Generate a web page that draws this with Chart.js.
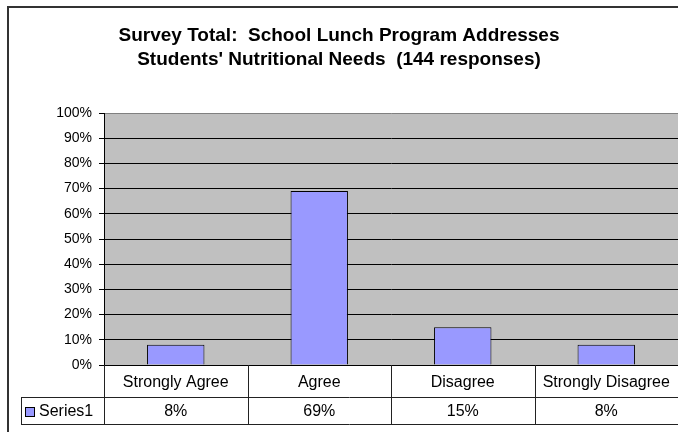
<!DOCTYPE html>
<html>
<head>
<meta charset="utf-8">
<script src="https://cdn.jsdelivr.net/npm/chart.js@4"></script>
<style>
  html, body { margin: 0; padding: 0; background: #fff; }
  #wrap { width: 678px; height: 432px; }
</style>
</head>
<body>
<div id="wrap"><canvas id="chart" width="678" height="432"></canvas></div>
<script>
const categories = ['Strongly Agree', 'Agree', 'Disagree', 'Strongly Disagree'];
const seriesName = 'Series1';
const seriesValues = [8, 69, 15, 8];
const tableLabels = ['8%', '69%', '15%', '8%'];
const titleLines = ['Survey Total:  School Lunch Program Addresses', "Students' Nutritional Needs  (144 responses)"];

const FONT = "'Liberation Sans', Arial, sans-serif";
const BAR_FILL = '#9999FF';

// grey plot background + outer frame
const backdrop = {
  id: 'backdrop',
  beforeDraw(chart) {
    const { ctx, chartArea: a } = chart;
    ctx.save();
    ctx.fillStyle = '#C0C0C0';
    ctx.fillRect(a.left, a.top, a.right - a.left, a.bottom - a.top);
    ctx.strokeStyle = '#333';
    ctx.lineWidth = 2;
    ctx.strokeRect(8, 7, 720, 500);
    ctx.restore();
  }
};

// Excel style data table under the plot
const dataTable = {
  id: 'dataTable',
  afterDraw(chart) {
    const { ctx, chartArea: a } = chart;
    const xs = chart.scales.x;
    const colW = (a.right - a.left) / categories.length;
    const row1Bottom = a.bottom + 32;
    const row2Bottom = a.bottom + 59;
    const legendLeft = 21;

    ctx.save();
    ctx.strokeStyle = '#222';
    ctx.lineWidth = 1;
    ctx.beginPath();
    ctx.moveTo(legendLeft, row1Bottom + 0.5); ctx.lineTo(a.right, row1Bottom + 0.5);
    ctx.moveTo(legendLeft, row2Bottom + 0.5); ctx.lineTo(a.right, row2Bottom + 0.5);
    ctx.moveTo(legendLeft + 0.5, row1Bottom); ctx.lineTo(legendLeft + 0.5, row2Bottom);
    ctx.moveTo(a.left + 0.5, a.bottom); ctx.lineTo(a.left + 0.5, row2Bottom);
    categories.forEach((c, i) => {
      if (i === 0) return;
      const x = Math.round(xs.getPixelForValue(i) - colW / 2) + 0.5;
      ctx.moveTo(x, a.bottom); ctx.lineTo(x, row2Bottom);
    });
    ctx.stroke();

    ctx.fillStyle = '#000';
    ctx.font = '16px ' + FONT;
    ctx.textAlign = 'center';
    ctx.textBaseline = 'middle';
    categories.forEach((c, i) => {
      const x = xs.getPixelForValue(i);
      ctx.fillText(c, x, (a.bottom + row1Bottom) / 2 + 2);
      ctx.fillText(tableLabels[i], x, (row1Bottom + row2Bottom) / 2 + 1);
    });

    // legend key
    const ky = Math.round((row1Bottom + row2Bottom) / 2) - 4;
    ctx.fillStyle = BAR_FILL;
    ctx.fillRect(25, ky, 9, 9);
    ctx.strokeStyle = '#000';
    ctx.strokeRect(25.5, ky + 0.5, 9, 9);
    ctx.fillStyle = '#000';
    ctx.textAlign = 'left';
    ctx.fillText(seriesName, 39, (row1Bottom + row2Bottom) / 2 + 1);
    ctx.restore();
  }
};

new Chart(document.getElementById('chart'), {
  type: 'bar',
  data: {
    labels: categories,
    datasets: [{
      label: seriesName,
      data: seriesValues,
      backgroundColor: BAR_FILL,
      borderColor: '#000',
      borderWidth: 1,
      barPercentage: 0.4,
      categoryPercentage: 1
    }]
  },
  options: {
    responsive: false,
    animation: false,
    events: [],
    layout: { padding: { top: 0, left: 0, right: 0, bottom: 67 } },
    plugins: {
      legend: { display: false },
      tooltip: { enabled: false },
      title: {
        display: true,
        text: titleLines,
        color: '#000',
        font: { family: FONT, size: 19, weight: 'bold', lineHeight: 24 / 19 },
        padding: { top: 24, bottom: 41 }
      }
    },
    scales: {
      x: { display: false },
      y: {
        min: 0,
        max: 100,
        afterFit(scale) { scale.width = 104; },
        ticks: {
          stepSize: 10,
          padding: 7,
          color: '#000',
          font: { family: FONT, size: 14 },
          callback: v => v + '%'
        },
        grid: {
          color: ctx => (ctx.tick && ctx.tick.value === 100 ? '#808080' : '#000'),
          tickColor: '#000',
          tickLength: 5
        },
        border: { color: '#000' }
      }
    }
  },
  plugins: [backdrop, dataTable]
});
</script>
</body>
</html>
